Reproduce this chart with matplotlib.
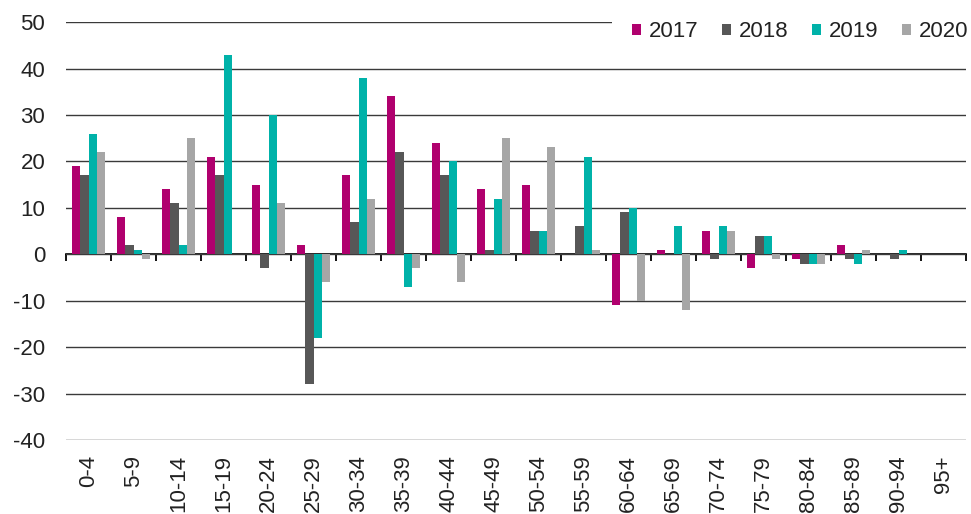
import matplotlib
matplotlib.use('Agg')
import matplotlib.pyplot as plt
import numpy as np

plt.rcParams['font.family'] = ['Liberation Sans', 'DejaVu Sans']
plt.rcParams['axes.unicode_minus'] = False

age_groups = ['0-4', '5-9', '10-14', '15-19', '20-24', '25-29', '30-34', '35-39',
              '40-44', '45-49', '50-54', '55-59', '60-64', '65-69', '70-74', '75-79',
              '80-84', '85-89', '90-94', '95+']

v2017 = [19, 8, 14, 21, 15, 2, 17, 34, 24, 14, 15, 0, -11, 1, 5, -3, -1, 2, 0, 0]
v2018 = [17, 2, 11, 17, -3, -28, 7, 22, 17, 1, 5, 6, 9, 0, -1, 4, -2, -1, -1, 0]
v2019 = [26, 1, 2, 43, 30, -18, 38, -7, 20, 12, 5, 21, 10, 6, 6, 4, -2, -2, 1, 0]
v2020 = [22, -1, 25, 0, 11, -6, 12, -3, -6, 25, 23, 1, -10, -12, 5, -1, -2, 1, 0, 0]

series = [('2017', v2017, '#b0006e'),
          ('2018', v2018, '#575757'),
          ('2019', v2019, '#00b2a9'),
          ('2020', v2020, '#a6a6a6')]

text_color = '#222222'

fig = plt.figure(figsize=(9.71, 5.14), dpi=100)
ax = fig.add_axes([0.068, 0.144, 0.927, 0.813])

x = np.arange(len(age_groups))
width = 0.183

for i, (label, vals, color) in enumerate(series):
    ax.bar(x + (i - 1.5) * width, vals, width, color=color, label=label,
           zorder=3, linewidth=0)

ax.set_xlim(-0.5, len(age_groups) - 0.5)
ax.set_ylim(-40, 50)
ax.set_yticks(np.arange(-40, 51, 10))
ax.grid(axis='y', color='#3a3a3a', linewidth=1.0, zorder=0)
ax.set_axisbelow(True)

for side in ['top', 'right', 'left', 'bottom']:
    ax.spines[side].set_visible(False)

ax.set_xticks(x)
ax.set_xticklabels(age_groups, rotation=90, va='top', ha='center')
ax.tick_params(axis='x', length=0, pad=11, labelsize=16, labelcolor=text_color)
ax.tick_params(axis='y', length=0, pad=15, labelsize=16, labelcolor=text_color)

# zero line with category separators
zero = ax.secondary_xaxis(40 / 90)
zero.set_xticks(np.arange(-0.5, len(age_groups), 1.0))
zero.set_xticklabels([])
zero.tick_params(axis='x', length=5, width=1.3, color='black', direction='out')
zero.spines['bottom'].set_color('black')
zero.spines['bottom'].set_linewidth(1.2)

leg = ax.legend(loc='center left', bbox_to_anchor=(0.630, 0.938),
                bbox_transform=fig.transFigure, ncol=4, frameon=True,
                fontsize=16, handlelength=0.42, handleheight=0.42,
                handletextpad=0.35, columnspacing=1.05, borderpad=0.9,
                borderaxespad=0)
leg.get_frame().set_facecolor('white')
leg.get_frame().set_edgecolor('none')
leg.get_frame().set_alpha(1)
leg.set_zorder(5)
for t in leg.get_texts():
    t.set_color(text_color)

plt.savefig('out.png', dpi=100)
